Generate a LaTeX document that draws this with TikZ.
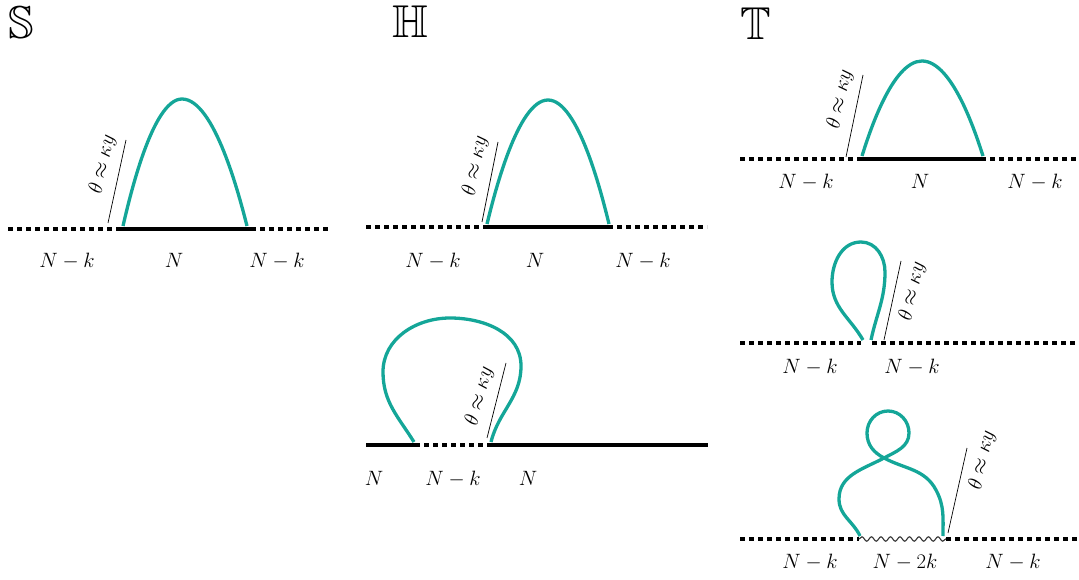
\documentclass[tikz,border=0pt]{standalone}
\usepackage{tikz}
\usepackage{xcolor}
\usepackage{amsmath,amsfonts,amssymb}
\usetikzlibrary{positioning,decorations.pathmorphing}

\definecolor{loopteal}{RGB}{20,166,152}

\begin{document}
\begin{tikzpicture}[
  x=1pt, y=1pt,
  solidseg/.style={line width=4.5pt},
  dotseg/.style={line width=4.5pt, dash pattern=on 5pt off 4pt},
  wavyseg/.style={line width=1.1pt, black!80, decorate,
    decoration={snake, amplitude=2.2pt, segment length=9.5pt}},
  loopcurve/.style={line width=3.3pt, loopteal},
  tanline/.style={line width=0.7pt},
  lbl/.style={font=\fontsize{21}{25}\selectfont, inner sep=0pt},
  anglbl/.style={font=\fontsize{20}{24}\selectfont, inner sep=0pt, sloped},
  bigletter/.style={font=\fontsize{46}{48}\selectfont, inner sep=0pt}
]
\useasboundingbox (0,0) rectangle (1079,579);

% --- S ---
\node[bigletter] (sS) at (21,556) {$\mathbb{S}$};

\coordinate (s0) at (8,350);
\coordinate (s1) at (119,350);
\coordinate (s2) at (251,350);
\coordinate (s3) at (330,350);
\draw[dotseg]   (s0) -- (s1);
\draw[solidseg] (s1) -- (s2);
\draw[dotseg]   (s2) -- (s3);

\coordinate (sa) at (123,353);
\coordinate (sb) at (182,480);
\coordinate (sc) at (247,353);
\draw[loopcurve] (sa) parabola bend (sb) (sc);

\coordinate (sd) at (108,356);
\coordinate (se) at (126,439);
\draw[tanline] (sd) -- node[anglbl, pos=.66, above=8pt] {$\theta\approx\kappa y$} (se);

\node[lbl] (sl1) at (67,318)  {$N-k$};
\node[lbl] (sl2) at (174,319) {$N$};
\node[lbl] (sl3) at (277,318) {$N-k$};

% --- H, upper ---
\node[bigletter] (hH) at (410,557) {$\mathbb{H}$};

\coordinate (h0) at (366,352);
\coordinate (h1) at (484,352);
\coordinate (h2) at (608,352);
\coordinate (h3) at (707,352);
\draw[dotseg]   (h0) -- (h1);
\draw[solidseg] (h1) -- (h2);
\draw[dotseg]   (h2) -- (h3);

\coordinate (ha) at (487,355);
\coordinate (hb) at (548,479);
\coordinate (hc) at (609,355);
\draw[loopcurve] (ha) parabola bend (hb) (hc);

\coordinate (hd) at (482,357);
\coordinate (he) at (498,437);
\draw[tanline] (hd) -- node[anglbl, pos=.66, above=8pt] {$\theta\approx\kappa y$} (he);

\node[lbl] (hl1) at (433,318) {$N-k$};
\node[lbl] (hl2) at (535,319) {$N$};
\node[lbl] (hl3) at (643,318) {$N-k$};

% --- H, lower ---
\coordinate (k0) at (366,134);
\coordinate (k1) at (415,134);
\coordinate (k2) at (490,134);
\coordinate (k3) at (708,134);
\draw[solidseg] (k0) -- (k1);
\draw[dotseg]   (k1) -- (k2);
\draw[solidseg] (k2) -- (k3);

\coordinate (ka) at (414,137);
\coordinate (kb) at (491,137);
\draw[loopcurve] (ka) to[out=122,in=270] (383,207) to[out=90,in=180] (450,261)
  to[out=0,in=90] (521,213) to[out=270,in=76] (kb);

\coordinate (kd) at (487,141);
\coordinate (ke) at (506,216);
\draw[tanline] (kd) -- node[anglbl, pos=.5, above=8pt] {$\theta\approx\kappa y$} (ke);

\node[lbl] (kl1) at (374,101) {$N$};
\node[lbl] (kl2) at (453,100) {$N-k$};
\node[lbl] (kl3) at (528,101) {$N$};

% --- T, upper ---
\node[bigletter] (tT) at (756,555) {$\mathbb{T}$};

\coordinate (t0) at (740,420);
\coordinate (t1) at (860,420);
\coordinate (t2) at (981,420);
\coordinate (t3) at (1077,420);
\draw[dotseg]   (t0) -- (t1);
\draw[solidseg] (t1) -- (t2);
\draw[dotseg]   (t2) -- (t3);

\coordinate (ta) at (862,423);
\coordinate (tb) at (922,518);
\coordinate (tc) at (983,423);
\draw[loopcurve] (ta) parabola bend (tb) (tc);

\coordinate (td) at (846,422);
\coordinate (te) at (863,504);
\draw[tanline] (td) -- node[anglbl, pos=.66, above=8pt] {$\theta\approx\kappa y$} (te);

\node[lbl] (tl1) at (806,397)  {$N-k$};
\node[lbl] (tl2) at (920,398)  {$N$};
\node[lbl] (tl3) at (1035,397) {$N-k$};

% --- T, middle ---
\coordinate (m0) at (740,236);
\coordinate (m1) at (861,236);
\coordinate (m2) at (872,236);
\coordinate (m3) at (1077,236);
\draw[dotseg] (m0) -- (m1);
\draw[dotseg] (m2) -- (m3);

\coordinate (ma) at (863,239);
\coordinate (mb) at (871,239);
\draw[loopcurve] (ma) to[out=120,in=270] (832,297) to[out=90,in=180] (861,337)
  to[out=0,in=90] (885,307) to[out=270,in=78] (mb);

\coordinate (md) at (884,239);
\coordinate (me) at (901,318);
\draw[tanline] (md) -- node[anglbl, pos=.66, below=8pt] {$\theta\approx\kappa y$} (me);

\node[lbl] (ml1) at (810,212) {$N-k$};
\node[lbl] (ml2) at (912,212) {$N-k$};

% --- T, lower ---
\coordinate (b0) at (740,40);
\coordinate (b1) at (859,40);
\coordinate (b2) at (946,40);
\coordinate (b3) at (1077,40);
\draw[dotseg]  (b0) -- (b1);
\draw[wavyseg] (b1) -- (b2);
\draw[dotseg]  (b2) -- (b3);

\coordinate (ba) at (860,43);
\coordinate (bx) at (884,121);
\coordinate (bc) at (943,43);
\draw[loopcurve] (ba) to[out=115,in=270] (839,80) to[out=90,in=208] (bx)
  to[out=28,in=270] (909,146) to[out=90,in=0] (888,168) to[out=180,in=90] (867,146)
  to[out=270,in=152] (bx) to[out=332,in=118] (936,89) to[out=298,in=90] (bc);

\coordinate (bd) at (948,46);
\coordinate (be) at (967,131);
\draw[tanline] (bd) -- node[anglbl, pos=.9, below=8pt] {$\theta\approx\kappa y$} (be);

\node[lbl] (bl1) at (810,17)  {$N-k$};
\node[lbl] (bl2) at (905,17)  {$N-2k$};
\node[lbl] (bl3) at (1013,17) {$N-k$};

\end{tikzpicture}
\end{document}
